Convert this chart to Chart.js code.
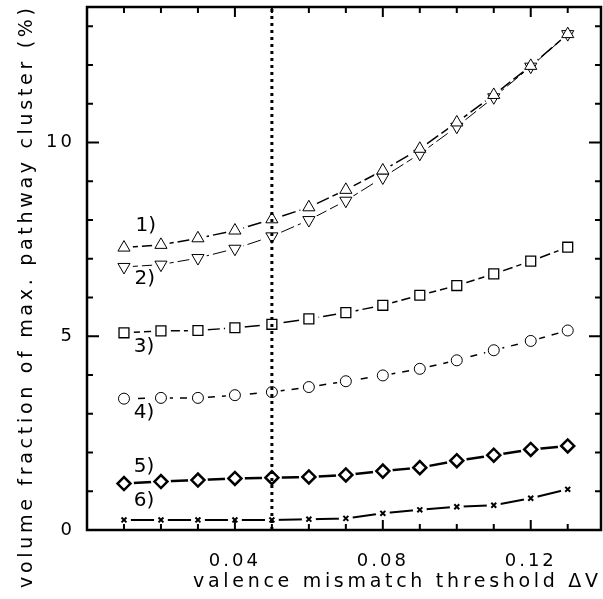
<html>
<head>
<script src="https://cdn.jsdelivr.net/npm/chart.js@4/dist/chart.umd.min.js"></script>
<style>
  body { margin: 0; background: white; }
  canvas { width: 603px !important; height: 599px !important; }
</style>
</head>
<body>
<canvas id="chart" width="603" height="599"></canvas>
<script>
  // threshold values (x) and the six curves
  var thresholds = [0.01, 0.02, 0.03, 0.04, 0.05, 0.06, 0.07, 0.08, 0.09, 0.10, 0.11, 0.12, 0.13];
  var curve1 = [7.29, 7.36, 7.53, 7.73, 8.02, 8.33, 8.78, 9.28, 9.84, 10.52, 11.23, 11.98, 12.80];
  var curve2 = [6.79, 6.85, 7.02, 7.26, 7.58, 8.00, 8.50, 9.10, 9.71, 10.41, 11.17, 11.96, 12.80];
  var curve3 = [5.09, 5.14, 5.15, 5.22, 5.31, 5.45, 5.61, 5.80, 6.06, 6.31, 6.61, 6.94, 7.30];
  var curve4 = [3.39, 3.41, 3.41, 3.48, 3.56, 3.69, 3.84, 3.99, 4.16, 4.38, 4.64, 4.88, 5.15];
  var curve5 = [1.20, 1.25, 1.29, 1.33, 1.35, 1.37, 1.42, 1.52, 1.61, 1.79, 1.93, 2.08, 2.17];
  var curve6 = [0.26, 0.26, 0.26, 0.26, 0.26, 0.28, 0.30, 0.43, 0.52, 0.60, 0.64, 0.82, 1.05];

  var xTickLabels = [0.04, 0.08, 0.12];
  var yTickLabels = [0, 5, 10];
  var cutoff = 0.05;

  var curveNames = ["1)", "2)", "3)", "4)", "5)", "6)"];
  // where the curve names sit, in data units
  var nameX = [0.0159, 0.0156, 0.0154, 0.0154, 0.0154, 0.0154];
  var nameY = [7.86, 6.49, 4.72, 3.02, 1.62, 0.75];

  var FONT = "'DejaVu Sans', sans-serif";

  function points(values) {
    return thresholds.map(function (x, i) { return { x: x, y: values[i] }; });
  }

  function line(values, lineWidth, dash) {
    return {
      data: points(values),
      showLine: true,
      borderColor: "black",
      borderWidth: lineWidth,
      borderDash: dash,
      pointRadius: 0
    };
  }

  function markers(values, marker, rot, radius, markerWidth) {
    return {
      data: points(values),
      showLine: false,
      pointStyle: marker,
      rotation: rot,
      pointRadius: radius,
      pointBorderWidth: markerWidth,
      pointBorderColor: "black",
      pointBackgroundColor: "white"
    };
  }

  // white discs under the markers so the lines stop short of them, as in the original
  function halo(values, radius) {
    return {
      data: points(values),
      showLine: false,
      pointStyle: "circle",
      pointRadius: radius,
      pointBorderWidth: 0,
      pointBorderColor: "white",
      pointBackgroundColor: "white"
    };
  }

  // first entry is drawn on top
  var datasets = [
    {
      data: [{ x: cutoff, y: 0 }, { x: cutoff, y: 13.5 }],
      showLine: true,
      borderColor: "black",
      borderWidth: 3,
      borderDash: [3, 4],
      pointRadius: 0
    },
    markers(curve1, "triangle", 0, 7, 1),
    markers(curve2, "triangle", 180, 7, 1),
    markers(curve3, "rect", 0, 7, 1.3),
    markers(curve4, "circle", 0, 5.5, 1),
    markers(curve5, "rectRot", 0, 6.5, 2.5),
    markers(curve6, "crossRot", 0, 3.5, 2),
    halo(curve1, 9),
    halo(curve2, 9),
    halo(curve3, 10),
    halo(curve4, 9),
    halo(curve5, 10),
    halo(curve6, 7),
    line(curve1, 1.5, [14, 4]),
    line(curve2, 1, [14, 4]),
    line(curve3, 1.5, [16, 4]),
    line(curve4, 1.5, [7, 7]),
    line(curve5, 2.5, []),
    line(curve6, 2, [])
  ];

  // draws a string so that it fills a given length (the original uses wide spacing)
  function spacedText(ctx, text, x, y, length, font) {
    ctx.font = font;
    ctx.letterSpacing = "0px";
    var w = ctx.measureText(text).width;
    var sp = (length - w) / (text.length - 1);
    ctx.letterSpacing = sp + "px";
    ctx.textAlign = "left";
    ctx.textBaseline = "middle";
    ctx.fillText(text, x, y);
    ctx.letterSpacing = "0px";
  }

  var decorations = {
    id: "decorations",
    beforeDraw: function (chart) {
      chart.ctx.letterSpacing = "3px";
    },
    afterDatasetsDraw: function (chart) {
      chart.ctx.letterSpacing = "0px";
    },
    afterDraw: function (chart) {
      var ctx = chart.ctx;
      var a = chart.chartArea;
      var xs = chart.scales.x, ys = chart.scales.y;
      ctx.save();
      ctx.strokeStyle = "black";
      ctx.fillStyle = "black";

      // inward tick marks
      ctx.lineWidth = 2;
      ctx.beginPath();
      thresholds.forEach(function (v) {
        var px = xs.getPixelForValue(v);
        var len = xTickLabels.some(function (t) { return Math.abs(t - v) < 1e-6; }) ? 10 : 6;
        ctx.moveTo(px, a.top); ctx.lineTo(px, a.top + len);
        ctx.moveTo(px, a.bottom); ctx.lineTo(px, a.bottom - len);
      });
      for (var v = 1; v <= 13; v++) {
        var py = ys.getPixelForValue(v);
        var len = (v % 5 === 0) ? 12 : 6;
        ctx.moveTo(a.left, py); ctx.lineTo(a.left + len, py);
        ctx.moveTo(a.right, py); ctx.lineTo(a.right - len, py);
      }
      ctx.stroke();

      // frame
      ctx.lineWidth = 2.5;
      ctx.strokeRect(a.left, a.top, a.right - a.left, a.bottom - a.top);

      // curve names
      ctx.font = "20px " + FONT;
      ctx.textAlign = "center";
      ctx.textBaseline = "middle";
      curveNames.forEach(function (n, i) {
        ctx.fillText(n, xs.getPixelForValue(nameX[i]), ys.getPixelForValue(nameY[i]));
      });

      // axis titles
      spacedText(ctx, "valence mismatch threshold \u0394V", 193, 582, 405, "19px " + FONT);
      ctx.translate(27, 588);
      ctx.rotate(-Math.PI / 2);
      spacedText(ctx, "volume fraction of max. pathway cluster (%)", 0, 0, 580, "19px " + FONT);
      ctx.restore();
    }
  };

  new Chart(document.getElementById("chart"), {
    type: "scatter",
    data: { datasets: datasets },
    plugins: [decorations],
    options: {
      responsive: false,
      animation: false,
      layout: { autoPadding: false, padding: { top: 7, right: 2, left: 0, bottom: 0 } },
      plugins: { legend: { display: false }, tooltip: { enabled: false } },
      scales: {
        x: {
          type: "linear",
          min: 0,
          max: 0.139,
          grid: { display: false, drawTicks: false },
          border: { display: false },
          afterBuildTicks: function (s) { s.ticks = xTickLabels.map(function (v) { return { value: v }; }); },
          afterFit: function (s) { s.height = 69; s.paddingLeft = 0; s.paddingRight = 0; },
          ticks: {
            padding: 21,
            color: "black",
            font: { family: FONT, size: 18 },
            callback: function (v) { return v.toFixed(2); }
          }
        },
        y: {
          min: 0,
          max: 13.5,
          grid: { display: false, drawTicks: false },
          border: { display: false },
          afterBuildTicks: function (s) { s.ticks = yTickLabels.map(function (v) { return { value: v }; }); },
          afterFit: function (s) { s.width = 87; s.paddingTop = 0; s.paddingBottom = 0; },
          ticks: {
            padding: 12,
            color: "black",
            font: { family: FONT, size: 18 }
          }
        }
      }
    }
  });
</script>
</body>
</html>
